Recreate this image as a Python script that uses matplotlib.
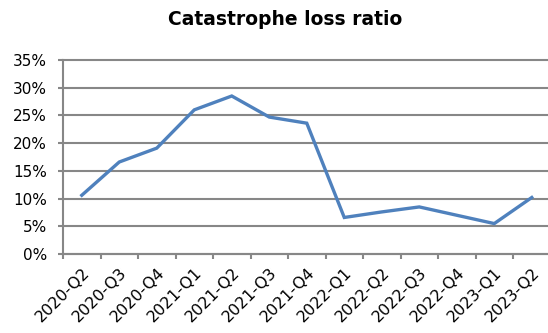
import numpy as np
import matplotlib.pyplot as plt
from matplotlib.ticker import FixedLocator, PercentFormatter

# Data
quarters = ["2020-Q2", "2020-Q3", "2020-Q4", "2021-Q1", "2021-Q2", "2021-Q3", "2021-Q4",
            "2022-Q1", "2022-Q2", "2022-Q3", "2022-Q4", "2023-Q1", "2023-Q2"]
loss_ratio = [10.6, 16.6, 19.1, 26.0, 28.5, 24.7, 23.6, 6.6, 7.6, 8.5, 7.0, 5.5, 10.2]

plt.rcParams["font.family"] = "DejaVu Sans"

fig = plt.figure(figsize=(5.48, 3.33), dpi=100)
# plot area runs slightly past the right edge, as in the cropped original
ax = fig.add_axes([0.115, 0.237, 0.8896, 0.583])

x = np.arange(len(quarters))
ax.plot(x, loss_ratio, color="#4F81BD", lw=2.4, solid_joinstyle="miter")

ax.set_xlim(-0.5, len(quarters) - 0.5)
ax.set_ylim(0, 35)
ax.set_yticks(np.arange(0, 36, 5))
ax.yaxis.set_major_formatter(PercentFormatter(decimals=0))
ax.grid(axis="y", color="#878787", lw=1.5)
ax.set_axisbelow(True)
for gl in ax.get_ygridlines():
    gl.set_clip_on(False)

# category labels centred, tick marks on boundaries
ax.set_xticks(x)
ax.set_xticklabels(quarters, rotation=45, ha="right", va="top", rotation_mode="anchor")
ax.xaxis.set_minor_locator(FixedLocator(np.arange(-0.5, len(quarters), 1)))
ax.tick_params(axis="x", which="major", length=0, pad=8, labelsize=11.5, colors="#000000")
ax.tick_params(axis="x", which="minor", length=3.5, width=1.5, color="#878787", direction="out")
ax.tick_params(axis="y", length=3.5, width=1.5, color="#878787", labelsize=11, pad=8)

for s in ["top", "right"]:
    ax.spines[s].set_visible(False)
for s in ["left", "bottom"]:
    ax.spines[s].set_color("#878787")
    ax.spines[s].set_linewidth(1.5)

fig.text(0.52, 0.925, "Catastrophe loss ratio", ha="center", va="baseline",
         fontsize=13.5, fontweight="bold")

fig.savefig("out.png", dpi=100)
